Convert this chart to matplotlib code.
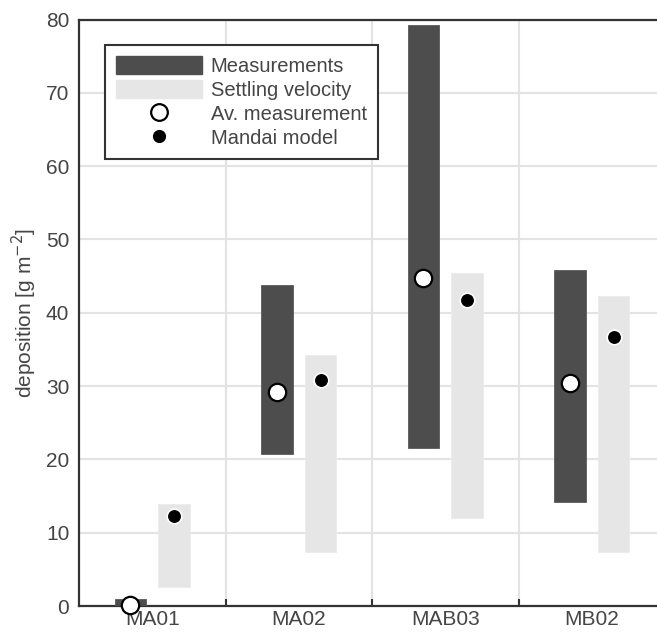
import matplotlib
matplotlib.use("Agg")
import matplotlib.pyplot as plt
from matplotlib.patches import Patch
from matplotlib.lines import Line2D

sites = ["MA01", "MA02", "MAB03", "MB02"]
meas_low = [0.0, 20.7, 21.5, 14.2]
meas_high = [0.9, 43.8, 79.3, 45.8]
settle_low = [2.6, 7.4, 12.0, 7.3]
settle_high = [13.9, 34.2, 45.4, 42.3]
av_meas = [0.2, 29.2, 44.8, 30.4]
mandai = [12.3, 30.8, 41.8, 36.7]

plt.rcParams['font.family'] = ['Liberation Sans', 'DejaVu Sans']
txt = '#454545'
dark = '#4d4d4d'
light = '#e6e6e6'
fs = 15
lfs = 14.5

fig = plt.figure(figsize=(6.57, 6.34), dpi=100)
ax = fig.add_axes([79/657, 1-606/634, 586/657, 586.5/634])

x = list(range(1, len(sites) + 1))
off = 0.15
w = 0.215
ax.bar([i - off for i in x], [h - l for h, l in zip(meas_high, meas_low)], bottom=meas_low,
       width=w, color=dark, edgecolor='#5a5a5a', linewidth=0.6, zorder=3)
ax.bar([i + off for i in x], [h - l for h, l in zip(settle_high, settle_low)], bottom=settle_low,
       width=w, color=light, edgecolor='#ececec', linewidth=0.6, zorder=3)
ax.plot([i - off for i in x], av_meas, 'o', ms=12.5, mfc='white', mec='black', mew=1.6,
        zorder=5, clip_on=False)
ax.plot([i + off for i in x], mandai, 'o', ms=10.5, mfc='black', mec='white', mew=1.2,
        zorder=5, clip_on=False)

ax.set_xlim(0.5, 4.5)
ax.set_ylim(0, 80)
ax.set_yticks(range(0, 81, 10))
ax.set_xticks([1.5, 2.5, 3.5])
ax.set_xticklabels([])
ax.set_xticks(x, minor=True)
ax.set_xticklabels(sites, minor=True)
ax.tick_params(axis='x', which='minor', length=0, labelsize=fs, colors=txt, pad=3)
ax.tick_params(axis='x', which='major', direction='in', length=5, width=1.5, colors='#333333')
ax.tick_params(axis='y', direction='in', length=0, width=1.0, colors='#333333', labelsize=fs,
               labelcolor=txt, pad=7)
ax.grid(True, which='major', color='#e3e3e3', linewidth=1.5, zorder=0)
ax.set_axisbelow(True)
for s in ['left', 'bottom', 'top']:
    ax.spines[s].set_color('#333333')
    ax.spines[s].set_linewidth(1.6)
ax.spines['right'].set_visible(False)
ax.set_ylabel('deposition [g m$^{-2}$]', fontsize=fs, color=txt, labelpad=5)

handles = [Patch(facecolor=dark, edgecolor=dark), Patch(facecolor=light, edgecolor=light),
           Line2D([], [], ls='none', marker='o', ms=12, mfc='white', mec='black', mew=1.6),
           Line2D([], [], ls='none', marker='o', ms=10.5, mfc='black', mec='white', mew=1.0)]
labels = ["Measurements", "Settling velocity", "Av. measurement", "Mandai model"]
leg = ax.legend(handles, labels, loc='upper left', bbox_to_anchor=(26/586, 561/586.5),
                borderaxespad=0, fontsize=lfs, frameon=True, fancybox=False, framealpha=1,
                handlelength=4.25, handleheight=1.0, labelspacing=0.2, handletextpad=0.45,
                borderpad=0.55, labelcolor=txt)
leg.get_frame().set_edgecolor('#333333')
leg.get_frame().set_linewidth(1.5)
leg.set_zorder(10)

fig.savefig('out.png', dpi=100)
